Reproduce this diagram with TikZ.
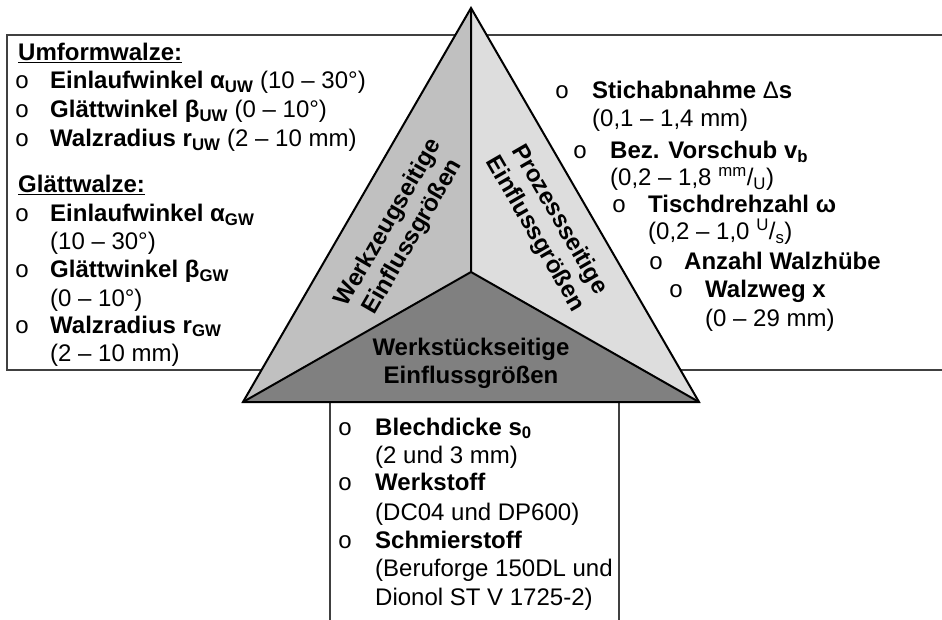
\documentclass[tikz,border=0pt]{standalone}
\usepackage{fontspec}
\setmainfont{Liberation Sans}
\newfontfamily\bulfont{Liberation Mono}
\definecolor{lefttri}{HTML}{C0C0C0}
\definecolor{righttri}{HTML}{DDDDDD}
\definecolor{bottri}{HTML}{808080}
\definecolor{boxline}{HTML}{404040}
\tikzset{
  tx/.style={anchor=base west, inner sep=0pt, font=\fontsize{24}{28}\selectfont},
  bul/.style={anchor=base, inner sep=0pt, font=\fontsize{24}{28}\bulfont},
  tri/.style={draw=black, line width=2pt, line join=miter},
  boxl/.style={draw=boxline, line width=1.3pt},
  tritxt/.style={inner sep=0pt, align=center, font=\fontsize{24}{28}\selectfont\bfseries},
}
\begin{document}
\begin{tikzpicture}[x=1pt,y=-1pt]
\useasboundingbox (0,0) rectangle (942,620);
% boxes
\coordinate (b1) at (942,35);
\coordinate (b2) at (7,35);
\coordinate (b3) at (7,370);
\coordinate (b4) at (942,370);
\draw[boxl] (b1) -- (b2) -- (b3) -- (b4);
\coordinate (c1) at (330,402);
\coordinate (c2) at (330,621);
\coordinate (c3) at (619,402);
\coordinate (c4) at (619,621);
\draw[boxl] (c1) -- (c2) (c3) -- (c4);
% triangle
\coordinate (A) at (471,8);
\coordinate (L) at (243,402);
\coordinate (R) at (699,402);
\coordinate (C) at (471,272);
\fill[lefttri] (A) -- (C) -- (L) -- cycle;
\fill[righttri] (A) -- (R) -- (C) -- cycle;
\fill[bottri] (L) -- (C) -- (R) -- cycle;
\draw[tri] (A) -- (L) -- (R) -- cycle;
\draw[tri] (A) -- (C) (L) -- (C) -- (R);
\node[tritxt, rotate=60] (tl) at (401,230) {Werkzeugseitige\\Einflussgrößen};
\node[tritxt, rotate=-60] (tr) at (547,227) {Prozessseitige\\Einflussgrößen};
\node[tritxt] (tb) at (471,363) {Werkstückseitige\\Einflussgrößen};
% left box
\node[tx] (h1) at (18,61) {\textbf{\underline{Umformwalze:}}};
\node[bul] (u1) at (22,89) {o};
\node[tx] (l1) at (50,89) {\textbf{Einlaufwinkel α\textsubscript{UW}} (10 – 30°)};
\node[bul] (u2) at (22,118) {o};
\node[tx] (l2) at (50,118) {\textbf{Glättwinkel β\textsubscript{UW}} (0 – 10°)};
\node[bul] (u3) at (22,147) {o};
\node[tx] (l3) at (50,147) {\textbf{Walzradius r\textsubscript{UW}} (2 – 10 mm)};
\node[tx] (h2) at (18,193) {\textbf{\underline{Glättwalze:}}};
\node[bul] (g1) at (22,222) {o};
\node[tx] (m1) at (50,222) {\textbf{Einlaufwinkel α\textsubscript{GW}}};
\node[tx] (m2) at (50,250) {(10 – 30°)};
\node[bul] (g3) at (22,278) {o};
\node[tx] (m3) at (50,278) {\textbf{Glättwinkel β\textsubscript{GW}}};
\node[tx] (m4) at (50,306) {(0 – 10°)};
\node[bul] (g5) at (22,333) {o};
\node[tx] (m5) at (50,333) {\textbf{Walzradius r\textsubscript{GW}}};
\node[tx] (m6) at (50,361) {(2 – 10 mm)};
% right box
\node[bul] (r1) at (562,99) {o};
\node[tx] (p1) at (592,99) {\textbf{Stichabnahme }Δ\textbf{s}};
\node[tx] (p2) at (592,127) {(0,1 – 1,4 mm)};
\node[bul] (r3) at (580,159) {o};
\node[tx] (p3) at (610,159) {\textbf{Bez. Vorschub v\textsubscript{b}}};
\node[tx] (p4) at (610,186) {(0,2 – 1,8 \textsuperscript{mm}/\textsubscript{U})};
\node[bul] (r5) at (619,213) {o};
\node[tx] (p5) at (648,213) {\textbf{Tischdrehzahl ω}};
\node[tx] (p6) at (648,240) {(0,2 – 1,0 \textsuperscript{U}/\textsubscript{s})};
\node[bul] (r7) at (656,270) {o};
\node[tx] (p7) at (684,270) {\textbf{Anzahl Walzhübe}};
\node[bul] (r8) at (676,298) {o};
\node[tx] (p8) at (705,298) {\textbf{Walzweg x}};
\node[tx] (p9) at (705,326) {(0 – 29 mm)};
% bottom box
\node[bul] (w1) at (345,435) {o};
\node[tx] (q1) at (375,435) {\textbf{Blechdicke s\textsubscript{0}}};
\node[tx] (q2) at (375,463) {(2 und 3 mm)};
\node[bul] (w3) at (345,490) {o};
\node[tx] (q3) at (375,490) {\textbf{Werkstoff}};
\node[tx] (q4) at (375,520) {(DC04 und DP600)};
\node[bul] (w5) at (345,548) {o};
\node[tx] (q5) at (375,548) {\textbf{Schmierstoff}};
\node[tx] (q6) at (375,576) {(Beruforge 150DL und};
\node[tx] (q7) at (375,605) {Dionol ST V 1725-2)};
\end{tikzpicture}
\end{document}
